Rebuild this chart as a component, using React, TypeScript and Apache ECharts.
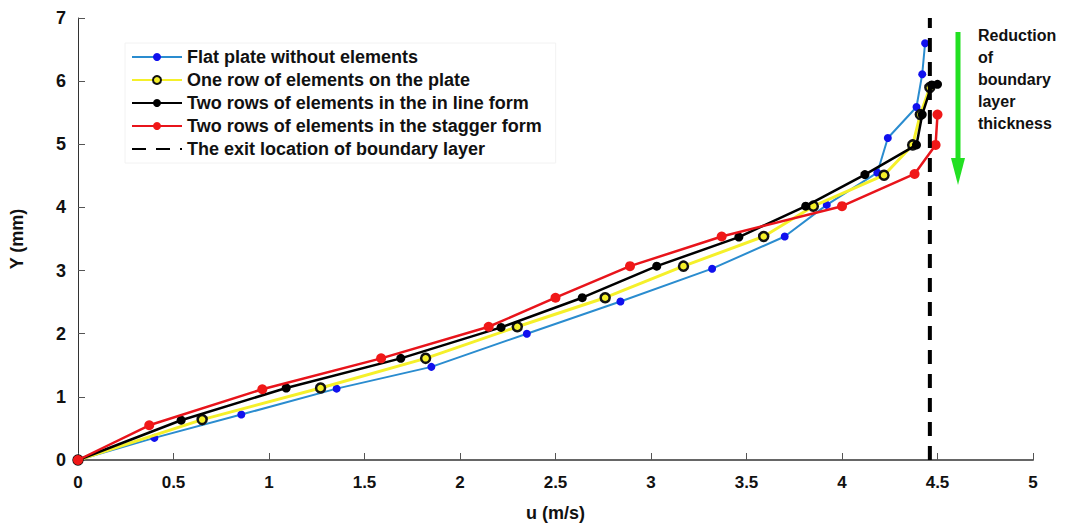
import React, { useEffect, useRef } from "react";
import * as echarts from "echarts";

const flatU = [0, 0.4, 0.855, 1.354, 1.85, 2.35, 2.84, 3.32, 3.7, 3.92, 4.185, 4.24, 4.39, 4.42, 4.435];
const flatY = [0, 0.35, 0.72, 1.13, 1.475, 2.0, 2.51, 3.03, 3.54, 4.04, 4.55, 5.1, 5.59, 6.11, 6.6];

const oneRowU = [0, 0.65, 1.27, 1.82, 2.3, 2.76, 3.17, 3.59, 3.85, 4.22, 4.37, 4.41, 4.46];
const oneRowY = [0, 0.64, 1.14, 1.61, 2.11, 2.57, 3.07, 3.54, 4.02, 4.51, 4.99, 5.47, 5.9];

const inLineU = [0, 0.54, 1.09, 1.69, 2.215, 2.64, 3.03, 3.46, 3.81, 4.12, 4.39, 4.42, 4.47, 4.5];
const inLineY = [0, 0.63, 1.14, 1.61, 2.1, 2.57, 3.07, 3.53, 4.02, 4.52, 4.99, 5.47, 5.94, 5.95];

const staggerU = [0, 0.373, 0.965, 1.587, 2.15, 2.5, 2.89, 3.37, 4.0, 4.38, 4.49, 4.5];
const staggerY = [0, 0.55, 1.12, 1.61, 2.11, 2.57, 3.07, 3.54, 4.02, 4.53, 4.99, 5.47];

const exitU = [4.46, 4.46];
const exitY = [0, 7];

const xTicks = [0, 0.5, 1, 1.5, 2, 2.5, 3, 3.5, 4, 4.5, 5];
const seriesNames = [
  "Flat plate without elements",
  "One row of elements on the plate",
  "Two rows of elements in the in line form",
  "Two rows of elements in the stagger form",
  "The exit location of boundary layer",
];
const noteText = ["Reduction", "of", "boundary", "layer", "thickness"];

const zip = (a: number[], b: number[]) => a.map((v, i) => [v, b[i]]);

export default function App() {
  const ref = useRef<HTMLDivElement>(null);
  useEffect(() => {
    document.body.style.margin = "0";
    const chart = echarts.init(ref.current!, null, { renderer: "svg" });
    const font = "'Liberation Sans', Arial, sans-serif";
    chart.setOption({
      animation: false,
      backgroundColor: "#ffffff",
      textStyle: { fontFamily: font },
      grid: { left: 78, right: 37, top: 18, bottom: 63 },
      xAxis: {
        type: "value",
        min: 0,
        max: 5,
        interval: 0.5,
        name: "u (m/s)",
        nameLocation: "middle",
        nameGap: 44,
        nameTextStyle: { fontSize: 18, fontWeight: "bold", color: "#111", fontFamily: font },
        axisLine: { show: true, lineStyle: { color: "#666", width: 2 } },
        axisTick: { show: true, inside: true, length: 7, lineStyle: { color: "#555", width: 1 } },
        axisLabel: {
          fontSize: 17,
          fontWeight: "bold",
          color: "#111",
          margin: 14,
          fontFamily: font,
          formatter: (v: number) => (xTicks.includes(v) ? String(v) : ""),
        },
        splitLine: { show: false },
      },
      yAxis: {
        type: "value",
        min: 0,
        max: 7,
        interval: 1,
        name: "Y (mm)",
        nameLocation: "middle",
        nameGap: 52,
        nameRotate: 90,
        nameTextStyle: { fontSize: 18, fontWeight: "bold", color: "#111", fontFamily: font },
        axisLine: { show: true, lineStyle: { color: "#333", width: 1 } },
        axisTick: { show: true, inside: true, length: 7, lineStyle: { color: "#555", width: 1 } },
        axisLabel: { fontSize: 18, fontWeight: "bold", color: "#111", margin: 12, fontFamily: font },
        splitLine: { show: false },
      },
      legend: {
        orient: "vertical",
        left: 125,
        top: 43,
        itemWidth: 50,
        itemHeight: 10,
        itemGap: 5,
        padding: [5, 14, 5, 6],
        backgroundColor: "#fff",
        borderColor: "#f2f2f2",
        borderWidth: 1,
        textStyle: { fontSize: 18, fontWeight: "bold", color: "#111", fontFamily: font },
        data: [
          seriesNames[0],
          seriesNames[1],
          seriesNames[2],
          seriesNames[3],
          { name: seriesNames[4], itemStyle: { opacity: 0 } },
        ],
      },
      series: [
        {
          name: seriesNames[0],
          type: "line",
          data: zip(flatU, flatY),
          symbol: "circle",
          symbolSize: 8,
          lineStyle: { color: "#2a8ccf", width: 2 },
          itemStyle: { color: "#1010ee" },
          z: 2,
        },
        {
          name: seriesNames[1],
          type: "line",
          data: zip(oneRowU, oneRowY),
          symbol: "circle",
          symbolSize: 9,
          lineStyle: { color: "#f5f02a", width: 3 },
          itemStyle: { color: "#f5f02a", borderColor: "#111", borderWidth: 2.5 },
          z: 3,
        },
        {
          name: seriesNames[2],
          type: "line",
          data: zip(inLineU, inLineY),
          symbol: "circle",
          symbolSize: 9,
          lineStyle: { color: "#000", width: 2.5 },
          itemStyle: { color: "#000" },
          z: 4,
        },
        {
          name: seriesNames[3],
          type: "line",
          data: zip(staggerU, staggerY),
          symbol: "circle",
          symbolSize: 10,
          lineStyle: { color: "#e8141b", width: 2.5 },
          itemStyle: { color: "#f01818" },
          z: 5,
        },
        {
          name: seriesNames[4],
          type: "line",
          data: zip(exitU, exitY),
          symbol: "none",
          lineStyle: { color: "#000", width: 4, type: [14, 10] },
          itemStyle: { color: "#000" },
          z: 6,
        },
      ],
      graphic: [
        { type: "line", shape: { x1: 958, y1: 32, x2: 958, y2: 162 }, style: { stroke: "#22e022", lineWidth: 5 } },
        { type: "polygon", shape: { points: [[951, 158], [965, 158], [958, 185]] }, style: { fill: "#22e022" } },
        {
          type: "text",
          left: 978,
          top: 24,
          style: {
            text: noteText.join("\n"),
            font: `bold 16px ${font}`,
            lineHeight: 22,
            fill: "#111",
          },
        },
      ],
    });
    return () => chart.dispose();
  }, []);
  return <div ref={ref} style={{ width: 1070, height: 527 }} />;
}
